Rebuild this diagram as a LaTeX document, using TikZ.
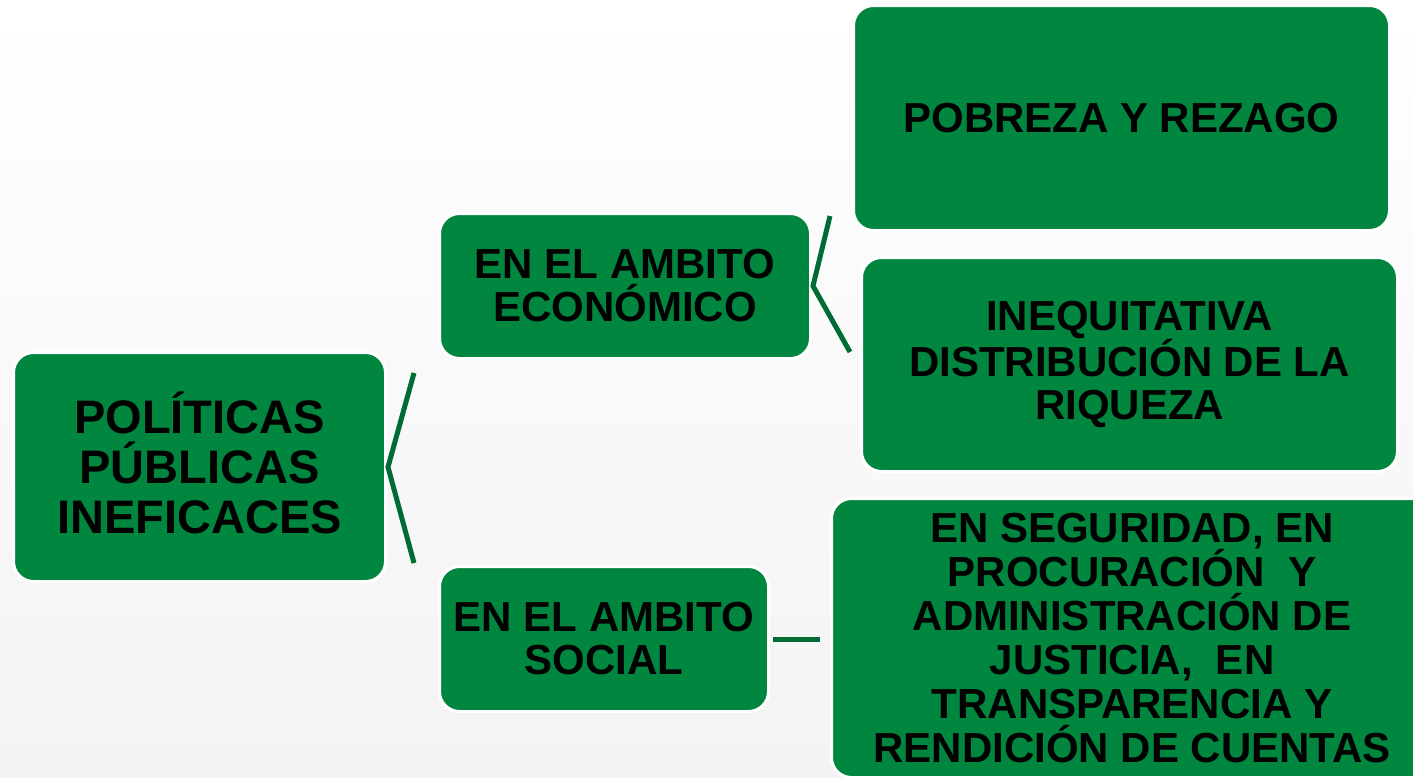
\documentclass[tikz,border=0pt]{standalone}
\usepackage{fontspec}
\setmainfont{Liberation Sans}
\definecolor{boxgreen}{RGB}{0,134,62}
\definecolor{linegreen}{RGB}{0,108,52}
\definecolor{bgbottom}{RGB}{243,243,243}
\begin{document}
\begin{tikzpicture}[x=1pt,y=-1pt,
  box/.style={draw=white, line width=3pt, fill=boxgreen, rounded corners=20pt,
    inner sep=0pt, align=center, text=black, font=\bfseries\fontsize{42}{43}\selectfont},
  conn/.style={draw=linegreen, line width=5pt}]
\useasboundingbox (0,0) rectangle (1413,777);
\clip (0,0) rectangle (1413,777);
\shade[top color=white, bottom color=bgbottom] (0,0) rectangle (1413,777);
% boxes
\node[box, minimum width=372pt, minimum height=229pt, font=\bfseries\fontsize{47}{50}\selectfont] (root) at (199.5,467) {POLÍTICAS\\PÚBLICAS\\INEFICACES\rule[-8pt]{0pt}{1pt}};
\node[box, minimum width=371pt, minimum height=145pt] (econ) at (625,286) {EN EL AMBITO\\ECONÓMICO};
\node[box, minimum width=329pt, minimum height=145pt] (social) at (604,639) {EN EL AMBITO\\SOCIAL};
\node[box, minimum width=536pt, minimum height=225pt] (pobreza) at (1121.5,118) {POBREZA Y REZAGO};
\node[box, minimum width=536pt, minimum height=214pt] (ineq) at (1129.5,364.5) {INEQUITATIVA\\DISTRIBUCIÓN DE LA\\RIQUEZA};
\node[box, minimum width=601pt, minimum height=279pt, font=\bfseries\fontsize{42}{44}\selectfont] (big) at (1132,638) {EN SEGURIDAD, EN\\PROCURACIÓN\ \ Y\\ADMINISTRACIÓN DE\\JUSTICIA,\ \ EN\\TRANSPARENCIA Y\\RENDICIÓN DE CUENTAS};
% connectors
\coordinate (r1) at (414,373);
\coordinate (r2) at (414,563);
\coordinate (e1) at (830,216);
\coordinate (e2) at (850,352);
\draw[conn] (r1) -- ([xshift=1pt]root.east) -- (r2);
\draw[conn] (e1) -- ([xshift=1pt]econ.east) -- (e2);
\draw[conn] ([xshift=3pt]social.east) -- ([xshift=-10pt]big.west |- social.east);
\end{tikzpicture}
\end{document}
